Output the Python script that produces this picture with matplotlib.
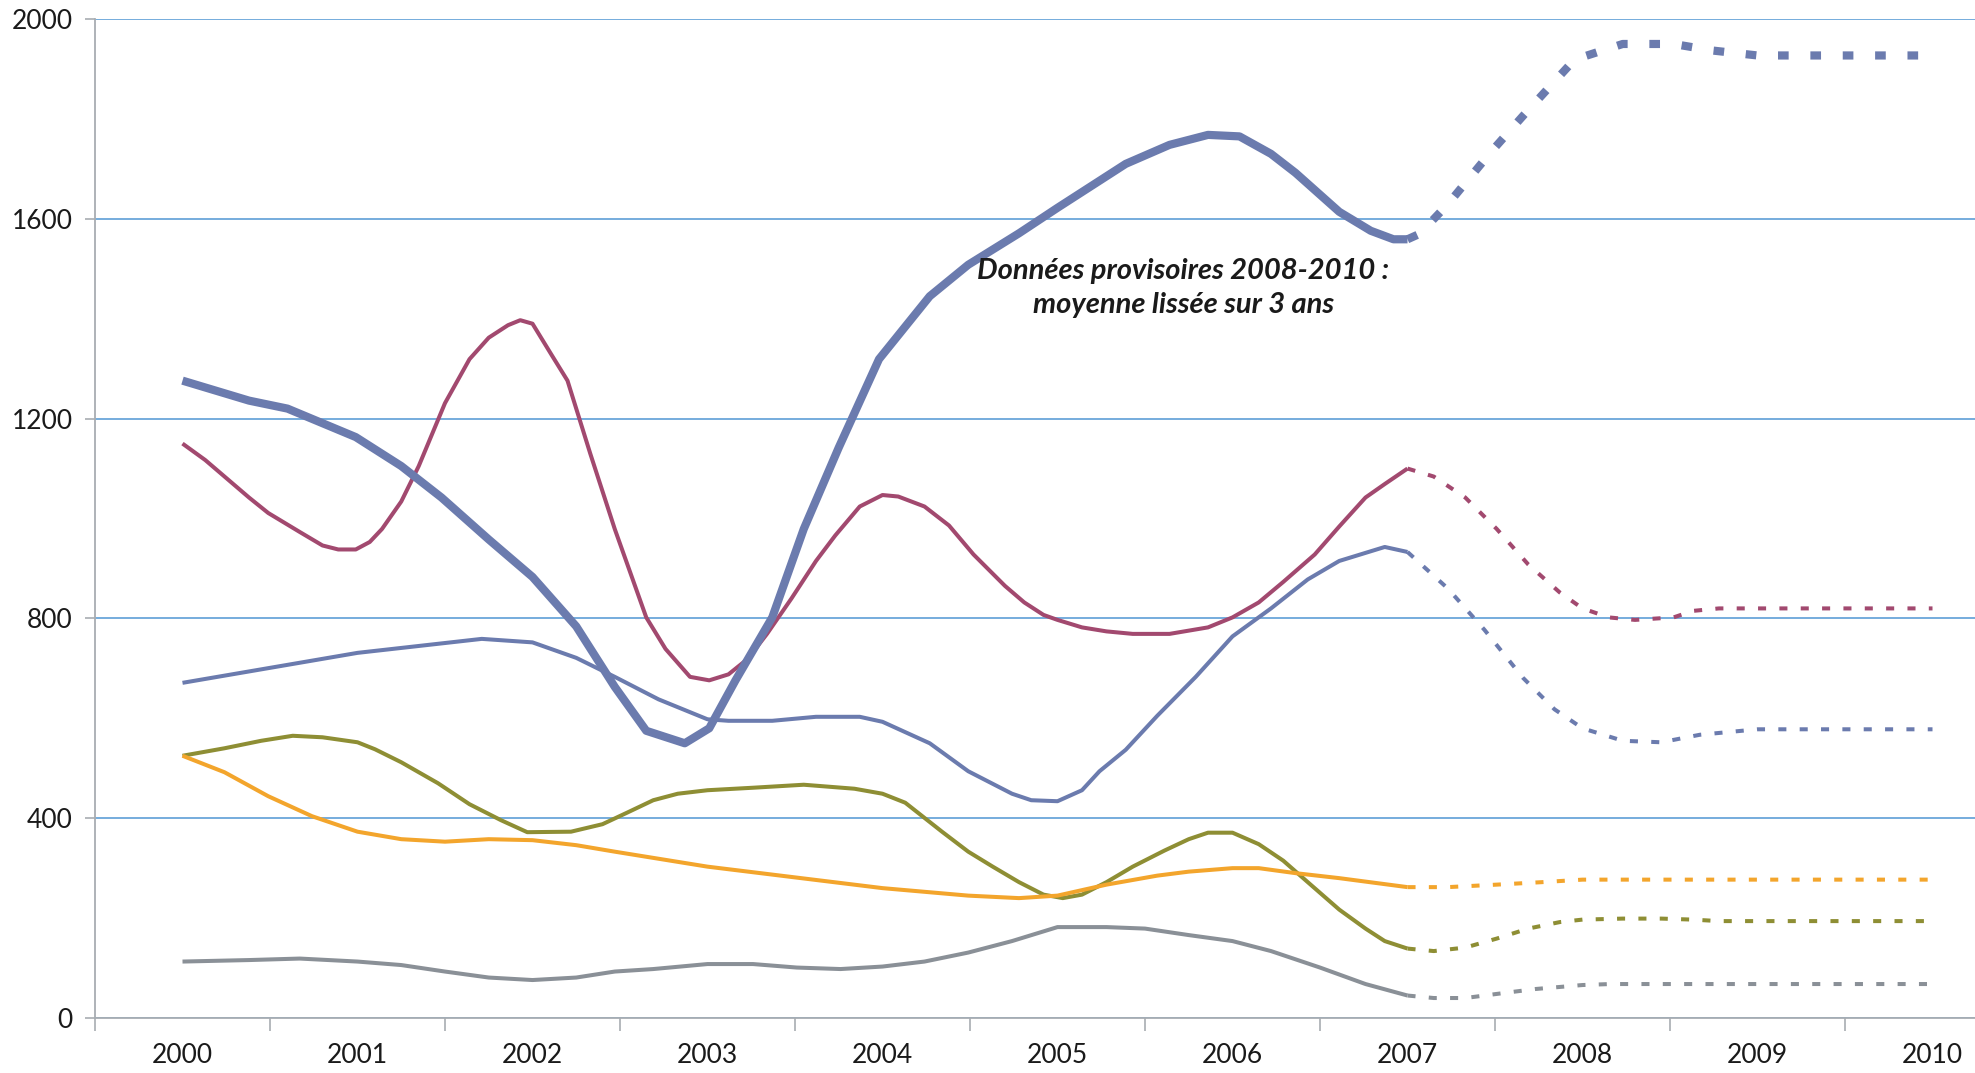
import matplotlib.pyplot as plt
import matplotlib as mpl

mpl.rcParams.update({
    "font.family": ["Lato", "DejaVu Sans"],
    "font.size": 19,
})

# positions in years after 2000
years = ['2000', '2001', '2002', '2003', '2004', '2005', '2006', '2007', '2008', '2009', '2010']

thick_x = [0, 0.38, 0.6, 0.99, 1.25, 1.48, 1.75, 2.0, 2.25, 2.47, 2.65, 2.87, 3.01, 3.16, 3.37, 3.55,
           3.75, 3.98, 4.27, 4.49, 4.78, 5.0, 5.39, 5.64, 5.86, 6.04, 6.22, 6.36, 6.61, 6.79, 6.92, 7.0,
           7.07, 7.23, 7.48, 7.66, 7.95, 8.0, 8.23, 8.52, 8.74, 9.0, 10.0]
thick_y = [1276, 1236, 1220, 1163, 1105, 1042, 958, 883, 784, 663, 575, 550, 580, 676, 802, 979,
           1142, 1319, 1445, 1508, 1571, 1622, 1710, 1748, 1768, 1765, 1730, 1692, 1614, 1576, 1559, 1559,
           1570, 1629, 1735, 1806, 1917, 1924, 1950, 1950, 1937, 1927, 1927]

thin_blue_x = [0, 1.0, 1.71, 2.0, 2.25, 2.47, 2.72, 3.0, 3.12, 3.37, 3.62, 3.87, 4.0, 4.27, 4.49, 4.74,
               4.85, 5.0, 5.14, 5.24, 5.39, 5.57, 5.79, 6.0, 6.22, 6.43, 6.61, 6.87, 7.0,
               7.23, 7.44, 7.66, 7.84, 8.0, 8.23, 8.45, 8.67, 9.0, 10.0]
thin_blue_y = [671, 731, 759, 752, 721, 683, 638, 598, 595, 595, 603, 603, 593, 550, 494, 449,
               436, 434, 456, 494, 537, 605, 683, 764, 820, 878, 915, 943, 933,
               860, 777, 681, 618, 580, 555, 552, 567, 578, 578]

magenta_x = [0, 0.13, 0.24, 0.38, 0.49, 0.67, 0.8, 0.89, 0.99, 1.07, 1.14, 1.25, 1.35, 1.5, 1.64, 1.75,
             1.86, 1.93, 2.0, 2.11, 2.2, 2.33, 2.47, 2.65, 2.76, 2.9, 3.01, 3.12, 3.23, 3.34, 3.48,
             3.62, 3.73, 3.87, 4.0, 4.09, 4.24, 4.38, 4.52, 4.7, 4.81, 4.92, 5.0, 5.14, 5.28, 5.43,
             5.64, 5.86, 6.0, 6.15, 6.29, 6.47, 6.61, 6.76, 6.87, 7.0,
             7.15, 7.33, 7.51, 7.69, 7.87, 8.0, 8.15, 8.3, 8.52, 8.63, 8.78, 10.0]
magenta_y = [1150, 1117, 1084, 1042, 1011, 973, 946, 938, 938, 953, 979, 1034, 1105, 1231, 1319, 1362,
             1387, 1397, 1390, 1327, 1276, 1130, 979, 802, 739, 683, 676, 688, 719, 769, 840,
             915, 966, 1024, 1047, 1044, 1024, 986, 928, 865, 832, 807, 797, 782, 774, 769,
             769, 782, 802, 832, 873, 928, 984, 1042, 1069, 1100,
             1084, 1042, 979, 908, 852, 820, 802, 797, 802, 815, 820, 820]

olive_x = [0, 0.24, 0.45, 0.63, 0.8, 1.0, 1.1, 1.25, 1.46, 1.64, 1.82, 1.97, 2.22, 2.4, 2.54, 2.69,
           2.83, 3.0, 3.26, 3.55, 3.84, 4.0, 4.13, 4.34, 4.49, 4.63, 4.78, 4.92, 5.03, 5.14, 5.28,
           5.43, 5.61, 5.75, 5.86, 6.0, 6.15, 6.29, 6.43, 6.61, 6.76, 6.87, 7.0,
           7.15, 7.33, 7.51, 7.69, 7.87, 8.0, 8.23, 8.45, 8.63, 8.78, 10.0]
olive_y = [525, 540, 555, 565, 562, 552, 538, 512, 470, 428, 396, 372, 373, 388, 411, 436,
           449, 456, 461, 467, 459, 449, 431, 373, 333, 303, 272, 247, 240, 247, 272,
           303, 335, 358, 371, 371, 348, 315, 272, 217, 179, 154, 139,
           134, 141, 159, 179, 192, 197, 199, 199, 197, 194, 194]

orange_x = [0, 0.24, 0.49, 0.74, 1.0, 1.25, 1.5, 1.75, 2.0, 2.25, 2.47, 3.0, 4.0, 4.49, 4.78, 5.0,
            5.28, 5.57, 5.75, 6.0, 6.15, 6.36, 6.61, 7.0, 7.23, 7.51, 7.77, 8.0, 10.0]
orange_y = [525, 492, 444, 404, 373, 358, 353, 358, 356, 346, 333, 303, 260, 245, 240, 245,
            267, 285, 293, 300, 300, 290, 280, 262, 262, 267, 272, 277, 277]

gray_x = [0, 0.38, 0.67, 1.0, 1.25, 1.5, 1.75, 2.0, 2.25, 2.47, 2.69, 3.0, 3.26, 3.51, 3.76, 4.0,
          4.24, 4.49, 4.74, 5.0, 5.28, 5.5, 5.75, 6.0, 6.22, 6.5, 6.76, 7.0,
          7.15, 7.33, 7.55, 7.73, 8.0, 8.16, 10.0]
gray_y = [113, 116, 119, 113, 106, 93, 81, 76, 81, 93, 98, 108, 108, 101, 98, 103,
          113, 131, 154, 182, 182, 179, 166, 154, 134, 101, 68, 45,
          40, 40, 50, 58, 66, 68, 68]

ANNOT = "Données provisoires 2008-2010 :\nmoyenne lissée sur 3 ans"

blue = '#6B7BAE'
series = [
    (thin_blue_x, thin_blue_y, blue, 2.9),
    (magenta_x, magenta_y, '#A2496F', 2.9),
    (olive_x, olive_y, '#8E8E34', 2.9),
    (orange_x, orange_y, '#F3A52C', 2.9),
    (gray_x, gray_y, '#8A9097', 2.9),
    (thick_x, thick_y, blue, 5.9),
]

W, H = 1975, 1073
fig = plt.figure(figsize=(W / 100, H / 100), dpi=100)
ax = fig.add_axes([95 / W, 1 - 1018 / H, (W - 95) / W, (1018 - 19) / H])

for xs, ys, col, lw in series:
    cut = xs.index(7.0)
    ax.plot(xs[:cut + 1], ys[:cut + 1], color=col, lw=lw, solid_joinstyle='round',
            solid_capstyle='butt', zorder=3)
    if lw > 4:
        dash = (0, (1.3, 2.65))
    else:
        dash = (0, (2.0, 3.3))
    ax.plot(xs[cut:], ys[cut:], color=col, lw=lw, linestyle=dash, dash_capstyle='butt', zorder=3)

ax.set_xlim(-0.5, (W - 95) / 175.0 - 0.5)
ax.set_ylim(0, 2000)
ax.set_yticks([0, 400, 800, 1200, 1600, 2000])
ax.set_xticks(range(len(years)))
ax.set_xticklabels(years)
ax.set_xticks([i - 0.5 for i in range(len(years))], minor=True)

ax.yaxis.grid(True, color='#6AA6DA', lw=1.3)
ax.set_axisbelow(True)
for s in ['top', 'right']:
    ax.spines[s].set_visible(False)
ax.spines['left'].set_color('#A8ADB2')
ax.spines['bottom'].set_color('#A8ADB2')
ax.spines['left'].set_linewidth(1.3)
ax.spines['bottom'].set_linewidth(1.3)

ax.tick_params(axis='y', length=7, width=1.2, color='#A8ADB2', pad=9, labelcolor='#1a1a1a')
ax.tick_params(axis='x', which='major', length=0, pad=18, labelcolor='#1a1a1a')
ax.tick_params(axis='x', which='minor', length=9, width=1.2, color='#A8ADB2')

ax.text(5.72, 1462, ANNOT, ha='center', va='center', fontsize=21, fontweight='bold',
        fontstyle='italic', color='#1a1a1a', linespacing=1.4, zorder=4)

fig.savefig('out.png', dpi=100)
